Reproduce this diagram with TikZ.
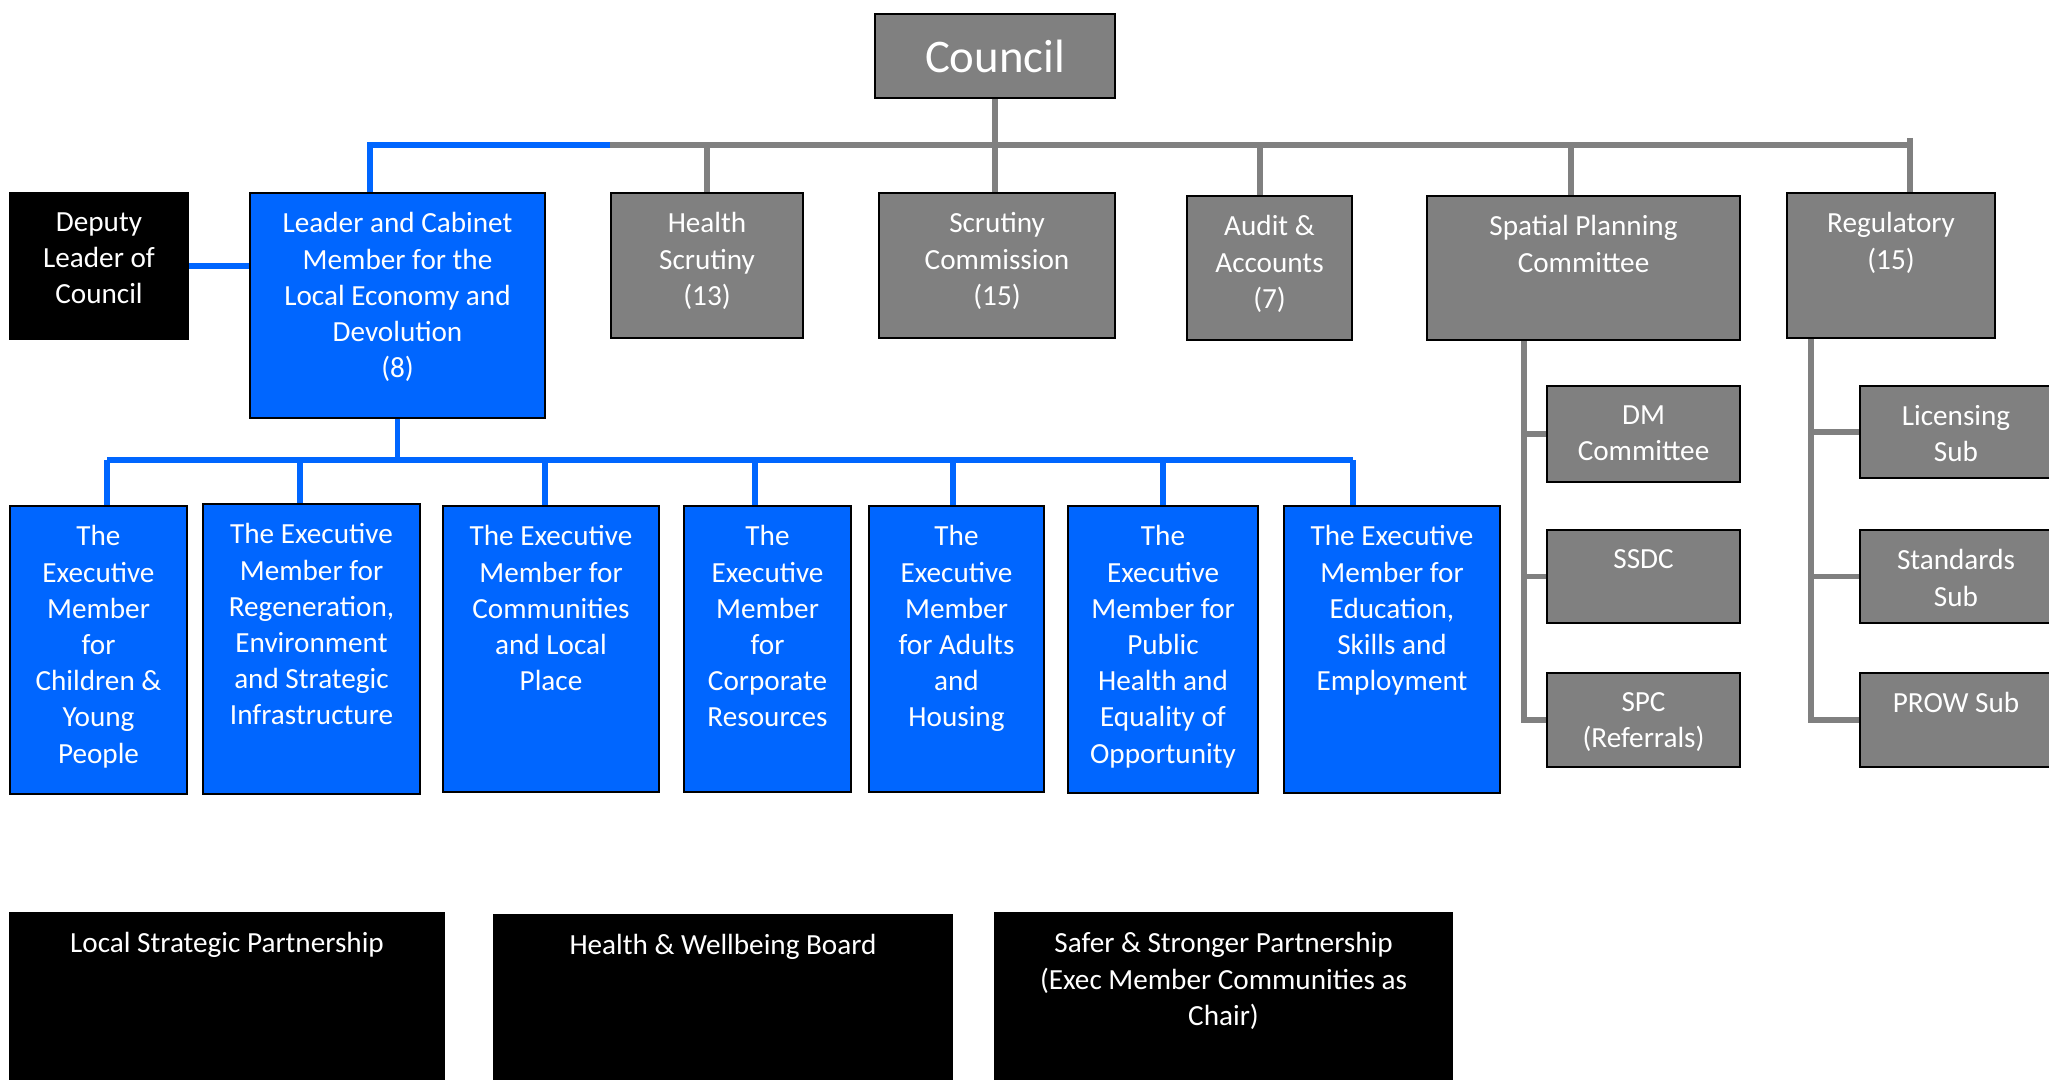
\documentclass[tikz,border=0pt]{standalone}
\usepackage{fontspec}
\setmainfont{Carlito}
\usetikzlibrary{positioning}
\definecolor{cgray}{RGB}{128, 128, 128}
\definecolor{cblue}{RGB}{0, 102, 255}
\tikzset{
    gbox/.style={draw=black, line width=0.6pt, fill=cgray, inner sep=0},
    bbox/.style={draw=black, line width=0.6pt, fill=cblue, inner sep=0},
    kbox/.style={draw=black, line width=0.6pt, fill=black, inner sep=0},
    txt/.style={text=white, align=center, inner sep=0, font=\fontsize{8.3}{10.3}\selectfont},
    gline/.style={draw=cgray, line width=1.5pt},
    bline/.style={draw=cblue, line width=1.6pt}
}
\begin{document}
\begin{tikzpicture}[x=0.01cm, y=-0.01cm]
                    \useasboundingbox (0,0) rectangle (2049,1080);

                    \node[gbox, minimum width=2.40cm, minimum height=0.84cm, text=white, font=\fontsize{13.3}{16}\selectfont] (council) at (995,56) {Council};

                    \node[kbox, minimum width=1.78cm, minimum height=1.46cm] (deputy) at (99,266) {};
                    \node[bbox, minimum width=2.95cm, minimum height=2.25cm] (leader) at (397.5,305.5) {};
                    \node[gbox, minimum width=1.92cm, minimum height=1.45cm] (hs) at (707,265.5) {};
                    \node[gbox, minimum width=2.36cm, minimum height=1.45cm] (sc) at (997,265.5) {};
                    \node[gbox, minimum width=1.65cm, minimum height=1.44cm] (audit) at (1269.5,268) {};
                    \node[gbox, minimum width=3.13cm, minimum height=1.44cm] (spatial) at (1583.5,268) {};
                    \node[gbox, minimum width=2.08cm, minimum height=1.45cm] (reg) at (1891,265.5) {};

                    \node[gbox, minimum width=1.93cm, minimum height=0.96cm] (dm) at (1643.5,434) {};
                    \node[gbox, minimum width=1.93cm, minimum height=0.93cm] (ssdc) at (1643.5,576.5) {};
                    \node[gbox, minimum width=1.93cm, minimum height=0.94cm] (spc) at (1643.5,720) {};
                    \node[gbox, minimum width=1.92cm, minimum height=0.92cm] (lic) at (1956,432) {};
                    \node[gbox, minimum width=1.92cm, minimum height=0.93cm] (std) at (1956,576.5) {};
                    \node[gbox, minimum width=1.92cm, minimum height=0.94cm] (prow) at (1956,720) {};

                    \node[bbox, minimum width=1.77cm, minimum height=2.88cm] (ex1) at (98.5,650) {};
                    \node[bbox, minimum width=2.17cm, minimum height=2.90cm] (ex2) at (311.5,649) {};
                    \node[bbox, minimum width=2.16cm, minimum height=2.86cm] (ex3) at (551,649) {};
                    \node[bbox, minimum width=1.67cm, minimum height=2.86cm] (ex4) at (767.5,649) {};
                    \node[bbox, minimum width=1.75cm, minimum height=2.86cm] (ex5) at (956.5,649) {};
                    \node[bbox, minimum width=1.90cm, minimum height=2.87cm] (ex6) at (1163,649.5) {};
                    \node[bbox, minimum width=2.16cm, minimum height=2.87cm] (ex7) at (1392,649.5) {};

                    \node[kbox, minimum width=4.34cm, minimum height=1.80cm] (lsp) at (227,1003) {};
                    \node[kbox, minimum width=4.58cm, minimum height=1.78cm] (hwb) at (723,1004) {};
                    \node[kbox, minimum width=4.57cm, minimum height=1.80cm] (ssp) at (1223.5,1003) {};

                    \node[txt, below=0.2cm of deputy.north] (deputy-t) {Deputy\\Leader of\\Council};
                    \node[txt, below=0.2cm of leader.north] (leader-t) {Leader and Cabinet\\Member for the\\Local Economy and\\Devolution\\(8)};
                    \node[txt, below=0.2cm of hs.north] (hs-t) {Health\\Scrutiny\\(13)};
                    \node[txt, below=0.2cm of sc.north] (sc-t) {Scrutiny\\Commission\\(15)};
                    \node[txt, below=0.2cm of audit.north] (audit-t) {Audit \&\\Accounts\\(7)};
                    \node[txt, below=0.2cm of spatial.north] (spatial-t) {Spatial Planning\\Committee};
                    \node[txt, below=0.2cm of reg.north] (reg-t) {Regulatory\\(15)};
                    \node[txt, below=0.2cm of dm.north] (dm-t) {DM\\Committee};
                    \node[txt, below=0.2cm of ssdc.north] (ssdc-t) {SSDC};
                    \node[txt, below=0.2cm of spc.north] (spc-t) {SPC\\(Referrals)};
                    \node[txt, below=0.2cm of lic.north] (lic-t) {Licensing\\Sub};
                    \node[txt, below=0.2cm of std.north] (std-t) {Standards\\Sub};
                    \node[txt, below=0.2cm of prow.north] (prow-t) {PROW Sub};
                    \node[txt, below=0.2cm of ex1.north] (ex1-t) {The\\Executive\\Member\\for\\Children \&\\Young\\People};
                    \node[txt, below=0.2cm of ex2.north] (ex2-t) {The Executive\\Member for\\Regeneration,\\Environment\\and Strategic\\Infrastructure};
                    \node[txt, below=0.2cm of ex3.north] (ex3-t) {The Executive\\Member for\\Communities\\and Local\\Place};
                    \node[txt, below=0.2cm of ex4.north] (ex4-t) {The\\Executive\\Member\\for\\Corporate\\Resources};
                    \node[txt, below=0.2cm of ex5.north] (ex5-t) {The\\Executive\\Member\\for Adults\\and\\Housing};
                    \node[txt, below=0.2cm of ex6.north] (ex6-t) {The\\Executive\\Member for\\Public\\Health and\\Equality of\\Opportunity};
                    \node[txt, below=0.2cm of ex7.north] (ex7-t) {The Executive\\Member for\\Education,\\Skills and\\Employment};
                    \node[txt, below=0.2cm of lsp.north] (lsp-t) {Local Strategic Partnership};
                    \node[txt, below=0.2cm of hwb.north] (hwb-t) {Health \& Wellbeing Board};
                    \node[txt, below=0.2cm of ssp.north] (ssp-t) {Safer \& Stronger Partnership\\(Exec Member Communities as\\Chair)};

                    \coordinate (bl) at (370,145);
                    \coordinate (gl) at (610,145);
                    \coordinate (ga) at (1260,145);
                    \coordinate (gs) at (1571,145);
                    \coordinate (gr) at (1910,145);
                    \coordinate (el) at (107,460);
                    \coordinate (sv) at (1524,0);
                    \coordinate (rv) at (1811,0);

                    \draw[gline] (council.south) -- (council.south |- sc.north);
                    \draw[gline] (gl) -- (gr);
                    \draw[gline] ([yshift=0.07cm]gr) -- (gr |- reg.north);
                    \draw[gline] (hs.north) -- (hs.north |- gl);
                    \draw[gline] (ga) -- (ga |- audit.north);
                    \draw[gline] (gs) -- (gs |- spatial.north);
                    \draw[bline] (gl) -- (bl) -- (bl |- leader.north);
                    \draw[bline] (deputy.east) -- (deputy.east -| leader.west);

                    \draw[bline] (leader.south) -- (leader.south |- el);
                    \draw[bline] (el) -- (1353,460);
                    \foreach \n/\x in {1/107,2/300,3/545,4/755,5/953,6/1163,7/1353} {
                        \coordinate (e\n) at (\x,460);
                        \draw[bline] (e\n) -- (e\n |- ex\n.north);
                    }

                    \draw[gline] (sv |- spatial.south) -- (sv |- spc.west) -- (spc.west);
                    \draw[gline] (sv |- dm.west) -- (dm.west);
                    \draw[gline] (sv |- ssdc.west) -- (ssdc.west);
                    \draw[gline] (rv |- reg.south) -- (rv |- prow.west) -- (prow.west);
                    \draw[gline] (rv |- lic.west) -- (lic.west);
                    \draw[gline] (rv |- std.west) -- (std.west);
                \end{tikzpicture}
\end{document}
